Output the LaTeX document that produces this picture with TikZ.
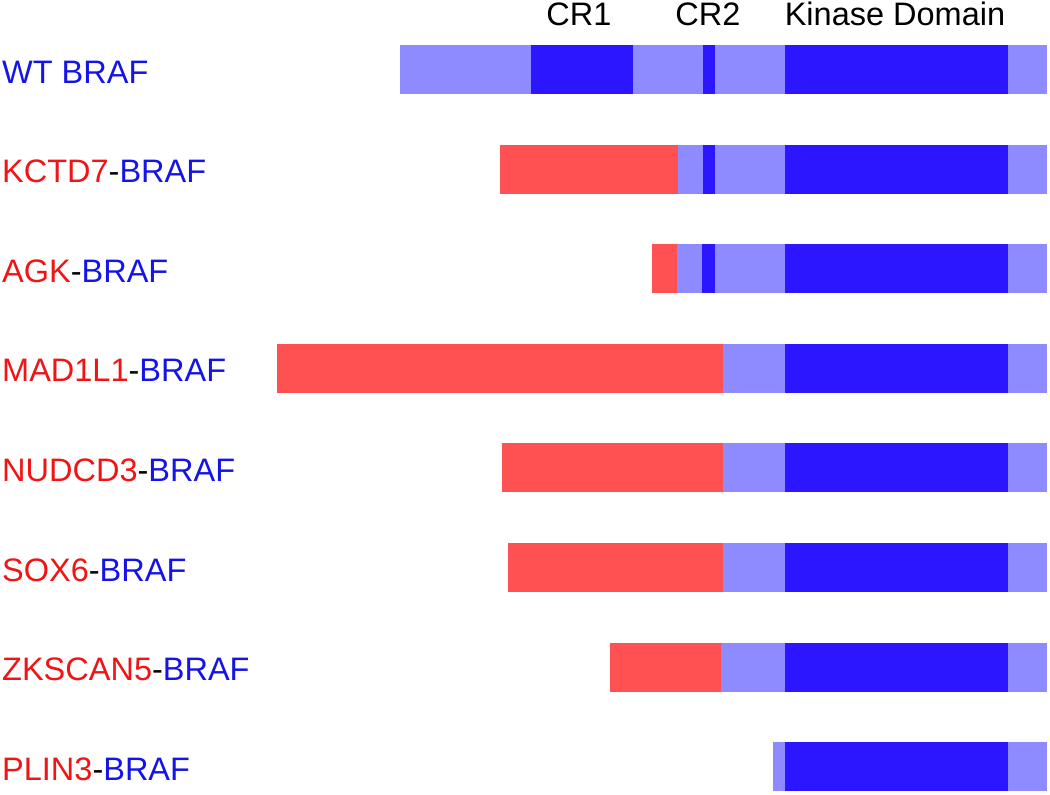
\documentclass[tikz,border=0pt]{standalone}
\usepackage{fontspec}
\setmainfont{Liberation Sans}
\definecolor{lightb}{RGB}{142,138,255}
\definecolor{darkb}{RGB}{43,22,255}
\definecolor{redbar}{RGB}{255,80,82}
\definecolor{txtblue}{RGB}{20,20,230}
\definecolor{txtred}{RGB}{240,20,20}
\tikzset{
  light/.style={fill=lightb},
  dark/.style={fill=darkb},
  fus/.style={fill=redbar},
  lbl/.style={anchor=base west, inner sep=0pt, font=\fontsize{32.5}{38}\selectfont},
  hdr/.style={anchor=base, inner sep=0pt, font=\fontsize{32.5}{38}\selectfont, text=black}
}
\begin{document}
\begin{tikzpicture}[x=1pt,y=-1pt]
\useasboundingbox (0,0) rectangle (1050,795);
% headers
\node[hdr] (cr1) at (579,25) {CR1};
\node[hdr] (cr2) at (708,25) {CR2};
\node[hdr] (kd) at (895,25) {Kinase Domain};
% WT
\fill[light] (400,45) rectangle (1047,94);
\fill[dark] (531,45) rectangle (633,94);
\fill[dark] (703,45) rectangle (715,94);
\fill[dark] (785,45) rectangle (1008,94);
\node[lbl] (l1) at (2,83) {\textcolor{txtblue}{WT BRAF}};
% KCTD7
\fill[light] (678,144.6) rectangle (1047,193.6);
\fill[fus] (500,144.6) rectangle (678,193.6);
\fill[dark] (703,144.6) rectangle (715,193.6);
\fill[dark] (785,144.6) rectangle (1008,193.6);
\node[lbl] (l2) at (2,182.6) {\textcolor{txtred}{KCTD7}-\textcolor{txtblue}{BRAF}};
% AGK
\fill[light] (677,244.2) rectangle (1047,293.2);
\fill[fus] (652,244.2) rectangle (677,293.2);
\fill[dark] (702,244.2) rectangle (715,293.2);
\fill[dark] (785,244.2) rectangle (1008,293.2);
\node[lbl] (l3) at (2,282.2) {\textcolor{txtred}{AGK}-\textcolor{txtblue}{BRAF}};
% MAD1L1
\fill[light] (723,343.8) rectangle (1047,392.8);
\fill[fus] (277,343.8) rectangle (723,392.8);
\fill[dark] (785,343.8) rectangle (1008,392.8);
\node[lbl] (l4) at (2,381.8) {\textcolor{txtred}{MAD1L1}-\textcolor{txtblue}{BRAF}};
% NUDCD3
\fill[light] (723,443.4) rectangle (1047,492.4);
\fill[fus] (502,443.4) rectangle (723,492.4);
\fill[dark] (785,443.4) rectangle (1008,492.4);
\node[lbl] (l5) at (2,481.4) {\textcolor{txtred}{NUDCD3}-\textcolor{txtblue}{BRAF}};
% SOX6
\fill[light] (723,543) rectangle (1047,592);
\fill[fus] (508,543) rectangle (723,592);
\fill[dark] (785,543) rectangle (1008,592);
\node[lbl] (l6) at (2,581) {\textcolor{txtred}{SOX6}-\textcolor{txtblue}{BRAF}};
% ZKSCAN5
\fill[light] (721,642.6) rectangle (1047,691.6);
\fill[fus] (610,642.6) rectangle (721,691.6);
\fill[dark] (785,642.6) rectangle (1008,691.6);
\node[lbl] (l7) at (2,680.6) {\textcolor{txtred}{ZKSCAN5}-\textcolor{txtblue}{BRAF}};
% PLIN3
\fill[light] (773,742.2) rectangle (1047,791.2);
\fill[dark] (785,742.2) rectangle (1008,791.2);
\node[lbl] (l8) at (2,780.2) {\textcolor{txtred}{PLIN3}-\textcolor{txtblue}{BRAF}};
\end{tikzpicture}
\end{document}
